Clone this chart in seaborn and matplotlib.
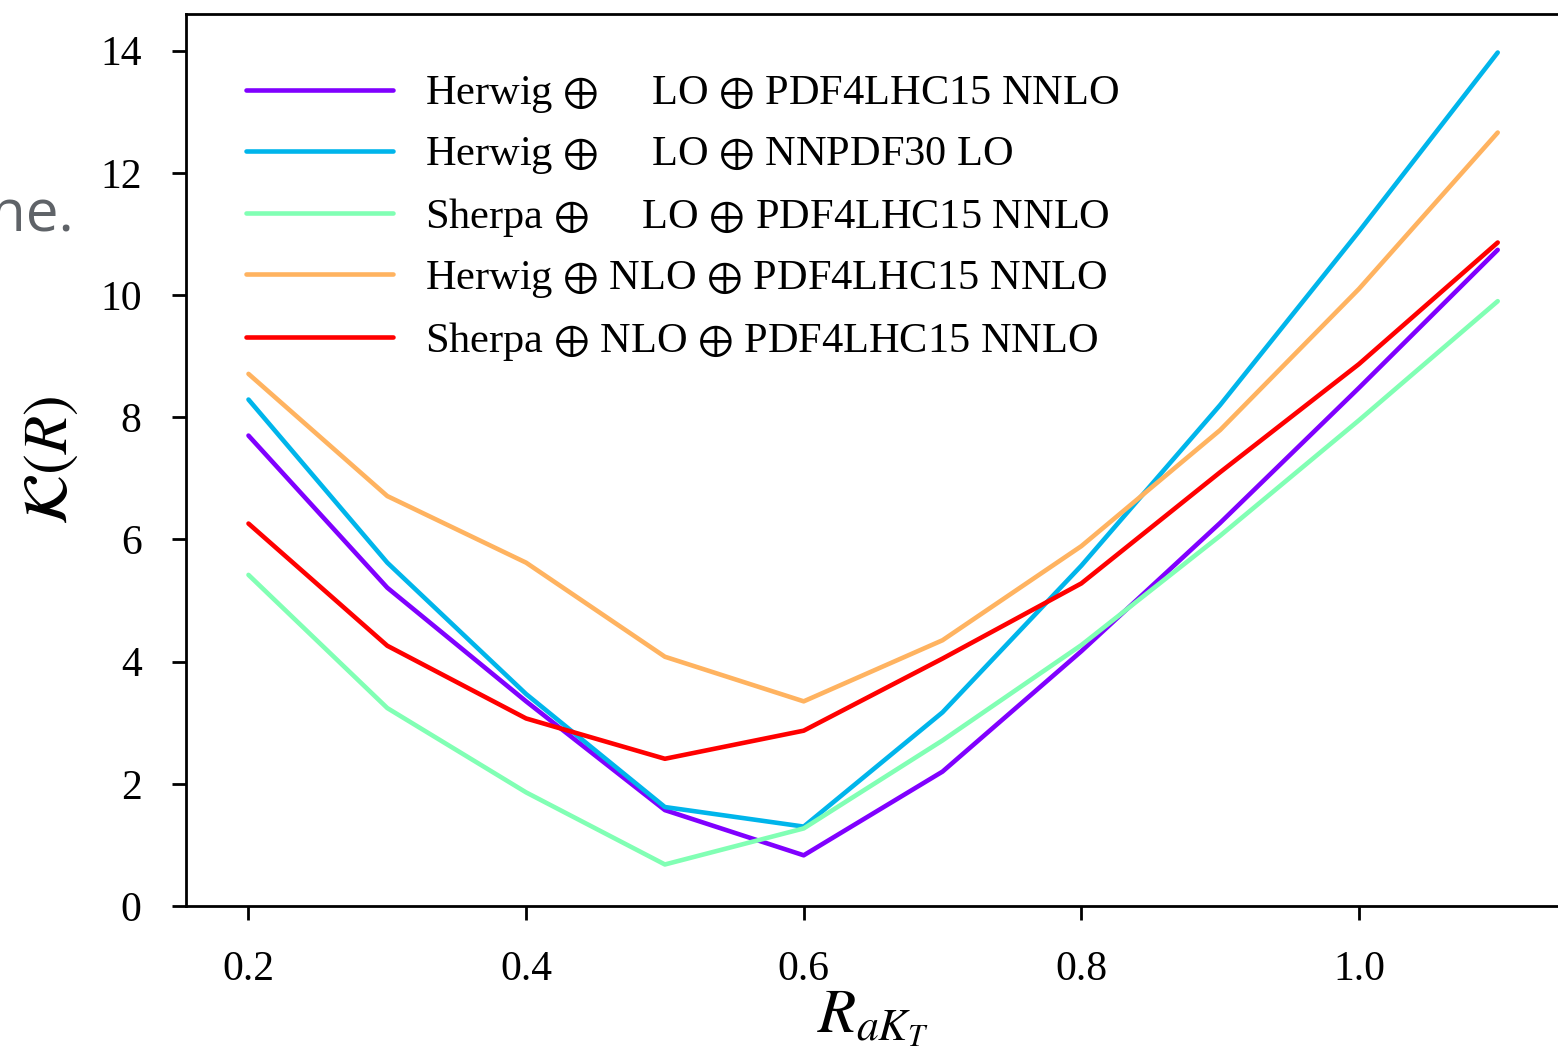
import numpy as np
import pandas as pd
import matplotlib
matplotlib.use("Agg")
import matplotlib.pyplot as plt
import seaborn as sns

# ---- data ----
r_values = [0.2, 0.3, 0.4, 0.5, 0.6, 0.7, 0.8, 0.9, 1.0, 1.1]
herwig_lo_pdf4lhc = [7.70, 5.21, 3.35, 1.57, 0.83, 2.20, 4.17, 6.27, 8.48, 10.74]
herwig_lo_nnpdf30 = [8.29, 5.62, 3.47, 1.62, 1.30, 3.17, 5.57, 8.20, 11.04, 13.97]
sherpa_lo_pdf4lhc = [5.42, 3.24, 1.86, 0.68, 1.27, 2.71, 4.27, 6.06, 7.95, 9.90]
herwig_nlo_pdf4lhc = [8.71, 6.71, 5.62, 4.08, 3.35, 4.35, 5.89, 7.79, 10.10, 12.66]
sherpa_nlo_pdf4lhc = [6.26, 4.26, 3.07, 2.41, 2.87, 4.05, 5.28, 7.10, 8.87, 10.86]

series_labels = [
    r"Herwig $\oplus$     LO $\oplus$ PDF4LHC15 NNLO",
    r"Herwig $\oplus$     LO $\oplus$ NNPDF30 LO",
    r"Sherpa $\oplus$     LO $\oplus$ PDF4LHC15 NNLO",
    r"Herwig $\oplus$ NLO $\oplus$ PDF4LHC15 NNLO",
    r"Sherpa $\oplus$ NLO $\oplus$ PDF4LHC15 NNLO",
]
series_values = [herwig_lo_pdf4lhc, herwig_lo_nnpdf30, sherpa_lo_pdf4lhc,
                 herwig_nlo_pdf4lhc, sherpa_nlo_pdf4lhc]
x_ticks = [0.2, 0.4, 0.6, 0.8, 1.0]
y_ticks = [0, 2, 4, 6, 8, 10, 12, 14]

rows = []
for lab, vals in zip(series_labels, series_values):
    for xv, yv in zip(r_values, vals):
        rows.append({"R": xv, "K": yv, "series": lab})
df = pd.DataFrame(rows)

sns.set_theme(style="ticks")
plt.rcParams["font.family"] = ["Liberation Serif", "DejaVu Serif"]
plt.rcParams["mathtext.fontset"] = "stix"
plt.rcParams["text.color"] = "black"
plt.rcParams["axes.labelcolor"] = "black"
plt.rcParams["xtick.color"] = "black"
plt.rcParams["ytick.color"] = "black"

palette = [plt.cm.rainbow(v) for v in np.linspace(0, 1, len(series_labels))]

fig = plt.figure(figsize=(15.58, 10.54), dpi=100)
ax = fig.add_axes([0.1194, 0.1404, 0.882, 0.8463])

sns.lineplot(data=df, x="R", y="K", hue="series", hue_order=series_labels,
             palette=palette, linewidth=3.3, ax=ax, legend=True)

ax.set_xlim(0.155, 1.145)
ax.set_ylim(0, 14.6)
ax.set_xticks(x_ticks)
ax.set_xticklabels([f"{t:.1f}" for t in x_ticks])
ax.set_yticks(y_ticks)
ax.tick_params(axis="both", direction="out", length=10, width=2,
               labelsize=30, pad=22, colors="black")
for sp in ax.spines.values():
    sp.set_linewidth(2)
    sp.set_color("black")

ax.set_xlabel(r"$R_{aK_T}$", fontsize=45, labelpad=0, color="black")
ax.set_ylabel(r"$\mathcal{K}(R)$", fontsize=45, labelpad=14, color="black")

leg = ax.legend(loc="upper left", bbox_to_anchor=(0.016, 0.975), frameon=False,
                fontsize=30.5, handlelength=3.47, handletextpad=0.75,
                labelspacing=0.47, title=None)
for txt in leg.get_texts():
    txt.set_color("black")
for line in leg.get_lines():
    line.set_linewidth(3.3)

fig.text(74 / 1558, 1 - 232 / 1054, "ne.", ha="right", va="baseline",
         fontsize=42, color="#5f6368", family=["Open Sans", "DejaVu Sans"])

fig.savefig("out.png", dpi=100)
